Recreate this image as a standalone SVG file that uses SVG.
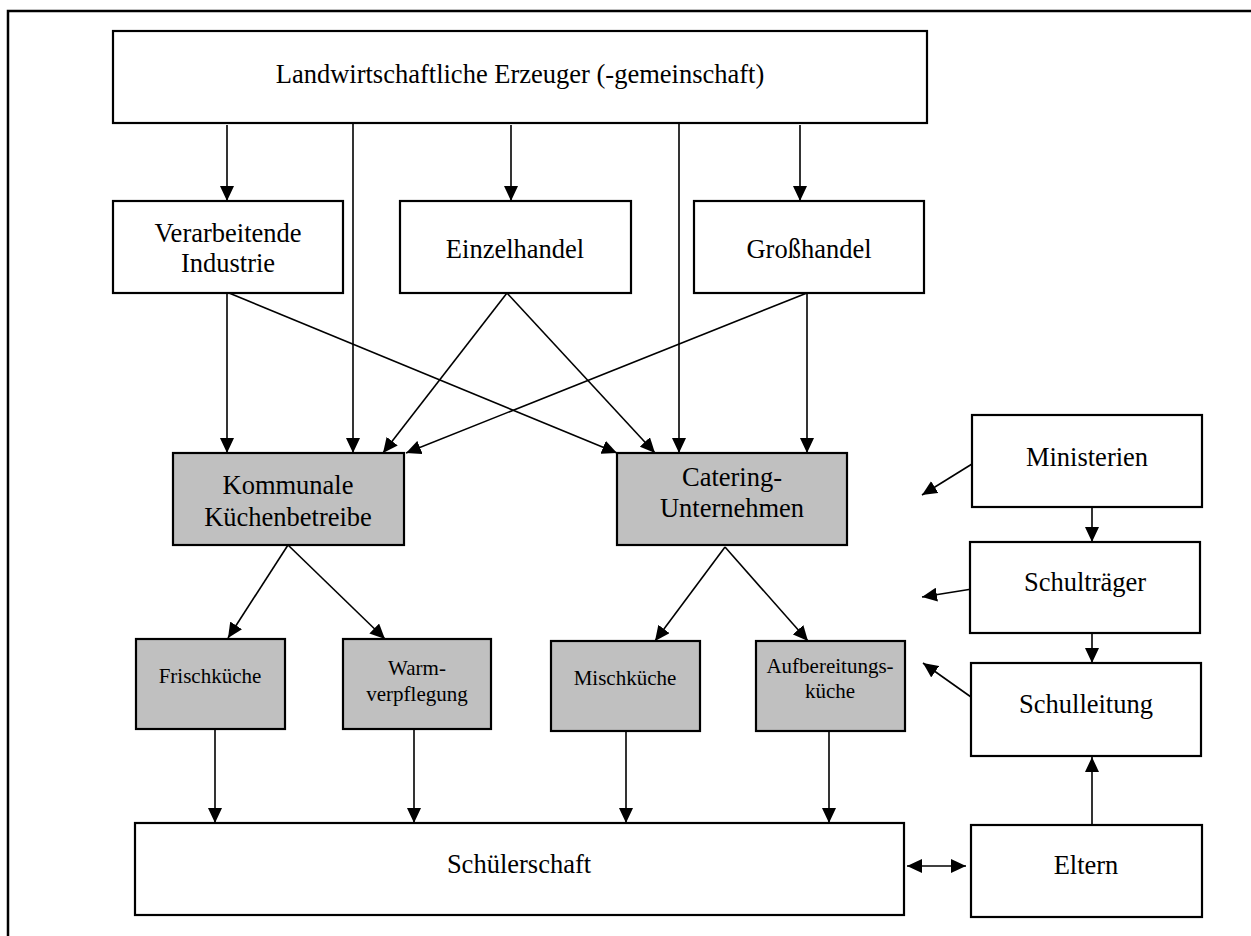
<svg xmlns="http://www.w3.org/2000/svg" width="1251" height="936" viewBox="0 0 1251 936">
<style>
.box{fill:#fff;stroke:#000;stroke-width:2.2}
.grey{fill:#c0c0c0;stroke:#000;stroke-width:2.2}
.t{font-family:"Liberation Serif","Times New Roman",serif;font-size:26.5px;fill:#000;text-anchor:middle}
.s{font-family:"Liberation Serif","Times New Roman",serif;font-size:21px;fill:#000;text-anchor:middle}
.c line{stroke:#000;stroke-width:1.6;marker-end:url(#ah)}
</style>
<defs>
<marker id="ah" markerUnits="userSpaceOnUse" markerWidth="16" markerHeight="14" refX="15" refY="7" orient="auto-start-reverse">
<path d="M0,0 L15,7 L0,14 z" fill="#000"/>
</marker>
</defs>
<rect x="0" y="0" width="1251" height="936" fill="#fff"/>
<rect id="frame" x="8" y="11" width="1270" height="950" fill="none" stroke="#000" stroke-width="2.5"/>

<g class="c" id="connectors">
<line x1="227" y1="125" x2="227" y2="201"/>
<line x1="353" y1="123" x2="353" y2="453"/>
<line x1="511" y1="125" x2="511" y2="201"/>
<line x1="679" y1="123" x2="679" y2="453"/>
<line x1="800" y1="125" x2="800" y2="201"/>
<line x1="227" y1="293" x2="227" y2="453"/>
<line x1="229" y1="293" x2="617" y2="453"/>
<line x1="507" y1="293" x2="383" y2="453"/>
<line x1="507" y1="293" x2="655" y2="453"/>
<line x1="807" y1="293" x2="406" y2="453"/>
<line x1="807" y1="293" x2="807" y2="453"/>
<line x1="288" y1="545" x2="228" y2="638"/>
<line x1="288" y1="545" x2="385" y2="639"/>
<line x1="725" y1="547" x2="655" y2="641"/>
<line x1="725" y1="547" x2="808" y2="641"/>
<line x1="215" y1="729" x2="215" y2="823"/>
<line x1="414" y1="729" x2="414" y2="823"/>
<line x1="626" y1="731" x2="626" y2="823"/>
<line x1="829" y1="731" x2="829" y2="823"/>
<line x1="907" y1="866" x2="966" y2="866" style="marker-start:url(#ah)"/>
<line x1="1092" y1="825" x2="1092" y2="757"/>
<line x1="1092" y1="507" x2="1092" y2="542"/>
<line x1="1092" y1="633" x2="1092" y2="663"/>
<line x1="972" y1="464" x2="922" y2="495"/>
<line x1="972" y1="589" x2="922" y2="597"/>
<line x1="971" y1="697" x2="923" y2="663"/>
</g>

<g id="erzeuger"><rect class="box" x="113" y="31" width="814" height="92"/><text class="t" x="520" y="83">Landwirtschaftliche Erzeuger (-gemeinschaft)</text></g>
<g id="industrie"><rect class="box" x="113" y="201" width="230" height="92"/><text class="t" x="228" y="242">Verarbeitende</text><text class="t" x="228" y="272">Industrie</text></g>
<g id="einzelhandel"><rect class="box" x="400" y="201" width="231" height="92"/><text class="t" x="515" y="258">Einzelhandel</text></g>
<g id="grosshandel"><rect class="box" x="694" y="201" width="230" height="92"/><text class="t" x="809" y="258">Großhandel</text></g>
<g id="kommunale"><rect class="grey" x="173" y="453" width="231" height="92"/><text class="t" x="288" y="494">Kommunale</text><text class="t" x="288" y="526">Küchenbetreibe</text></g>
<g id="catering"><rect class="grey" x="617" y="453" width="230" height="92"/><text class="t" x="732" y="486">Catering-</text><text class="t" x="732" y="517">Unternehmen</text></g>
<g id="ministerien"><rect class="box" x="972" y="415" width="230" height="92"/><text class="t" x="1087" y="466">Ministerien</text></g>
<g id="schultraeger"><rect class="box" x="970" y="542" width="230" height="91"/><text class="t" x="1085" y="591">Schulträger</text></g>
<g id="schulleitung"><rect class="box" x="971" y="663" width="230" height="93"/><text class="t" x="1086" y="713">Schulleitung</text></g>
<g id="frischkueche"><rect class="grey" x="136" y="639" width="149" height="90"/><text class="s" x="210" y="683">Frischküche</text></g>
<g id="warmverpflegung"><rect class="grey" x="343" y="639" width="148" height="90"/><text class="s" x="417" y="675">Warm-</text><text class="s" x="417" y="701">verpflegung</text></g>
<g id="mischkueche"><rect class="grey" x="551" y="641" width="149" height="90"/><text class="s" x="625" y="685">Mischküche</text></g>
<g id="aufbereitungskueche"><rect class="grey" x="756" y="641" width="149" height="90"/><text class="s" x="830" y="673">Aufbereitungs-</text><text class="s" x="830" y="698">küche</text></g>
<g id="schuelerschaft"><rect class="box" x="135" y="823" width="769" height="92"/><text class="t" x="519" y="873">Schülerschaft</text></g>
<g id="eltern"><rect class="box" x="971" y="825" width="231" height="92"/><text class="t" x="1086" y="874">Eltern</text></g>
</svg>
